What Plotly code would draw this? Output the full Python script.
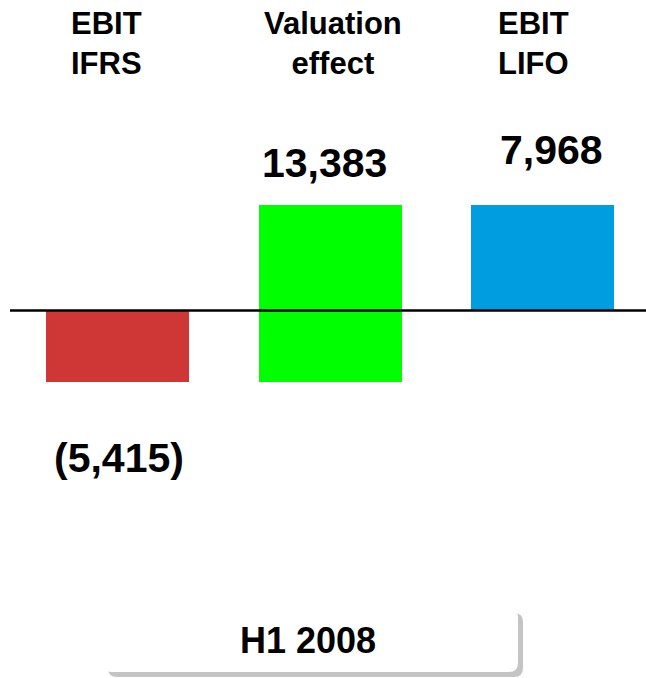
import plotly.graph_objects as go

# ---- data ----
categories = ["EBIT IFRS", "Valuation effect", "EBIT LIFO"]
header_labels = ["EBIT<br>IFRS", "Valuation<br>effect", "EBIT<br>LIFO"]
values = [-5415, 13383, 7968]
measures = ["absolute", "relative", "total"]
value_labels = ["(5,415)", "13,383", "7,968"]
period_label = "H1 2008"
colors = ["#CF3636", "#00FF00", "#009EE0"]

W, H = 646, 678

# waterfall bases derived from data
bases = []
running = 0
for v, m in zip(values, measures):
    if m == "absolute":
        bases.append(0); running = v
    elif m == "relative":
        bases.append(running); running += v
    else:
        bases.append(0); running = v

fig = go.Figure()
fig.add_trace(go.Bar(
    x=list(range(len(categories))), y=values, base=bases,
    marker=dict(color=colors, line=dict(width=0)),
    width=143 / 212.5, hoverinfo="skip", showlegend=False,
))

FONT = "Liberation Sans, Arial, sans-serif"

def px(xp):
    return xp / W

def py(yp):
    return 1 - yp / H

# headers
header_x = [106, 333, 533]
for hx, t in zip(header_x, header_labels):
    fig.add_annotation(x=px(hx), y=py(43), xref="paper", yref="paper",
                       text=t, showarrow=False, xanchor="center", yanchor="middle",
                       font=dict(family=FONT, size=31, color="black", weight="bold"))

# value labels
label_pos = [(119, 458), (324, 163), (551, 150)]
for (lx, ly), t in zip(label_pos, value_labels):
    fig.add_annotation(x=px(lx), y=py(ly), xref="paper", yref="paper",
                       text=t, showarrow=False, xanchor="center", yanchor="middle",
                       font=dict(family=FONT, size=41, color="black", weight="bold"))

# zero line
fig.add_shape(type="line", xref="paper", yref="y", x0=px(10), x1=1, y0=0, y1=0,
              line=dict(color="black", width=2.5), layer="above")

# rounded box with shadow
def rounded(x0, y0, x1, y1, r):
    X = lambda v: f"{px(v):.5f}"
    Y = lambda v: f"{py(v):.5f}"
    return (f"M {X(x0+r)},{Y(y0)} L {X(x1-r)},{Y(y0)} Q {X(x1)},{Y(y0)} {X(x1)},{Y(y0+r)} "
            f"L {X(x1)},{Y(y1-r)} Q {X(x1)},{Y(y1)} {X(x1-r)},{Y(y1)} "
            f"L {X(x0+r)},{Y(y1)} Q {X(x0)},{Y(y1)} {X(x0)},{Y(y1-r)} "
            f"L {X(x0)},{Y(y0+r)} Q {X(x0)},{Y(y0)} {X(x0+r)},{Y(y0)} Z")

fig.add_shape(type="path", xref="paper", yref="paper", path=rounded(108, 613, 523, 677, 9),
              fillcolor="#C4C4C4", line=dict(width=0), layer="below")
fig.add_shape(type="path", xref="paper", yref="paper", path=rounded(103, 608, 518, 672, 9),
              fillcolor="white", line=dict(width=0), layer="below")
fig.add_annotation(x=px(307.5), y=py(640), xref="paper", yref="paper",
                   text=period_label, showarrow=False, xanchor="center", yanchor="middle",
                   font=dict(family=FONT, size=36, color="black", weight="bold"))

x0 = -117.5 / 212.5
x1 = x0 + W / 212.5
per_px = 7968 / 105.5
zero_px = 310.5
fig.update_layout(
    width=W, height=H, margin=dict(l=0, r=0, t=0, b=0),
    paper_bgcolor="white", plot_bgcolor="rgba(0,0,0,0)",
    xaxis=dict(range=[x0, x1], visible=False, fixedrange=True),
    yaxis=dict(range=[-(H - zero_px) * per_px, zero_px * per_px], visible=False, fixedrange=True),
    bargap=0,
)

fig.write_html("out.html", config={"displayModeBar": False},
               post_script="document.body.style.margin='0';document.body.style.overflow='hidden';")
